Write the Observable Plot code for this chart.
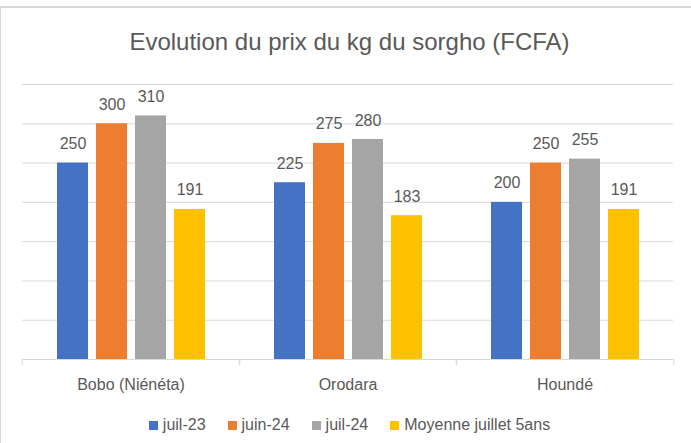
<!DOCTYPE html>
<html><head><meta charset="utf-8">
<script src="https://cdn.jsdelivr.net/npm/d3@7"></script>
<script src="https://cdn.jsdelivr.net/npm/@observablehq/plot@0.6"></script>
<style>
body{margin:0;background:#fff;font-family:"Liberation Sans",Arial,sans-serif;overflow:hidden;}
#frame{position:absolute;left:0;top:6px;width:720px;height:460px;border-top:2px solid #d9d9d9;border-left:1px solid #d9d9d9;}
#title{position:absolute;left:0;top:28px;width:691px;box-sizing:border-box;padding-left:8px;text-align:center;font-size:24px;line-height:28px;color:#595959;white-space:nowrap;}
#chart{position:absolute;left:0;top:70px;}
#legend{position:absolute;left:0;top:400px;width:691px;height:50px;box-sizing:border-box;padding-left:8px;display:flex;align-items:center;justify-content:center;}
.lg-swatches{margin:0 !important;min-height:0 !important;}
.lg-swatch{margin-right:22px !important;}
.lg-swatch:last-child{margin-right:0 !important;}
.lg-swatch > svg{margin-right:5px !important;}
</style></head>
<body>
<div id="frame"></div>
<div id="title">Evolution du prix du kg du sorgho (FCFA)</div>
<div id="chart"></div>
<div id="legend"></div>
<script>
const categories = ["Bobo (Niénéta)", "Orodara", "Houndé"];
const series = ["juil-23", "juin-24", "juil-24", "Moyenne juillet 5ans"];
const juil23 = [250, 225, 200];
const juin24 = [300, 275, 250];
const juil24 = [310, 280, 255];
const moyenne5ans = [191, 183, 191];
const colors = ["#4472C4", "#ED7D31", "#A5A5A5", "#FFC000"];
const yTicks = [0, 50, 100, 150, 200, 250, 300, 350];

const seriesValues = [juil23, juin24, juil24, moyenne5ans];
const data = series.flatMap((s, j) => categories.map((c, i) => ({category: c, series: s, value: seriesValues[j][i]})));

const W = 691, H = 330, mL = 21, mR = 17, mT = 14, mB = 41;
const band = (W - mL - mR) / categories.length;
const font = "'Liberation Sans', Arial, sans-serif";

const chart = Plot.plot({
  width: W, height: H,
  marginLeft: mL, marginRight: mR, marginTop: mT, marginBottom: mB,
  style: {fontFamily: font, fontSize: "16px", color: "#595959", background: "transparent", overflow: "visible"},
  fx: {domain: categories, padding: 0, axis: null, label: null},
  x: {domain: series, paddingInner: 0.215, paddingOuter: 0.863, axis: null},
  y: {domain: [yTicks[0], yTicks[yTicks.length - 1]], axis: null},
  color: {domain: series, range: colors},
  marks: [
    Plot.gridY(yTicks.slice(1), {stroke: "#d9d9d9", strokeOpacity: 1, strokeWidth: 1}),
    Plot.barY(data, {fx: "category", x: "series", y: "value", fill: "series"}),
    Plot.ruleY([0], {stroke: "#d9d9d9", strokeWidth: 1}),
    Plot.text(data, {fx: "category", x: "series", y: "value", text: d => String(d.value), lineAnchor: "bottom", dy: -14, fill: "#595959", fontSize: 16}),
    Plot.axisFx({anchor: "bottom", tickSize: 0, tickPadding: 19, fontSize: 16, fill: "#595959", label: null}),
    Plot.axisFx({anchor: "bottom", text: null, tickSize: 6, dx: -band / 2, stroke: "#d9d9d9", label: null}),
    Plot.axisFx({anchor: "bottom", text: null, tickSize: 6, dx: band / 2, stroke: "#d9d9d9", label: null})
  ]
});
document.getElementById("chart").appendChild(chart);

const legend = Plot.legend({
  color: {domain: series, range: colors},
  legend: "swatches",
  swatchSize: 9,
  className: "lg",
  style: {fontFamily: font, fontSize: "16px", color: "#595959"}
});
document.getElementById("legend").appendChild(legend);
</script>
</body></html>
